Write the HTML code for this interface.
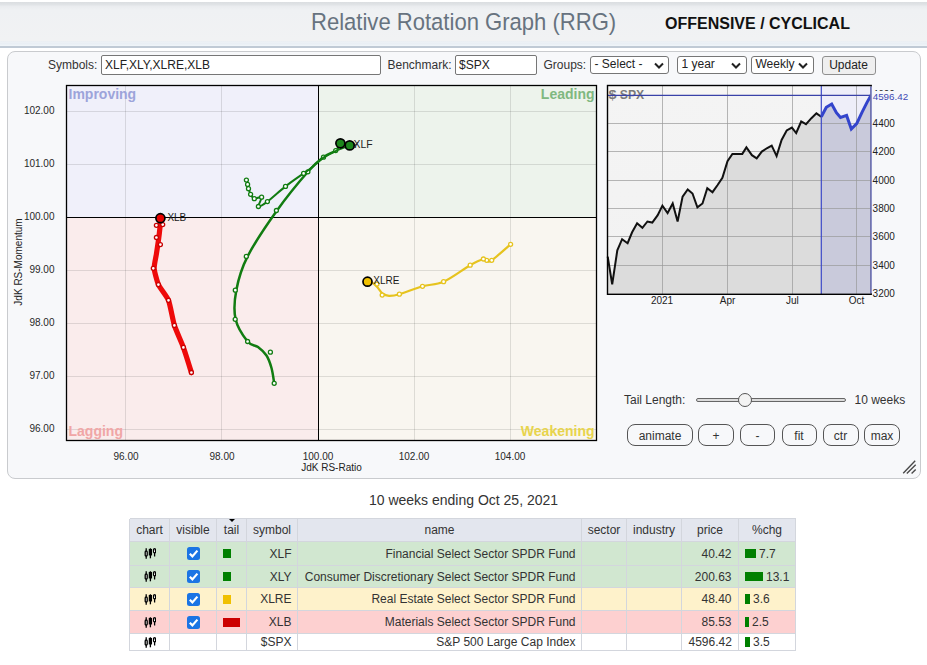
<!DOCTYPE html>
<html><head><meta charset="utf-8">
<style>
html,body{margin:0;padding:0;background:#fff;width:927px;height:665px;overflow:hidden;font-family:"Liberation Sans",sans-serif;color:#333;}
.abs{position:absolute;}
#hdr{position:absolute;left:0;top:2px;width:927px;height:44px;background:linear-gradient(#dadde0 0px,#e0e3e6 2.5px,#eaecef 4.5px,#eff1f3 8px,#f1f2f3 38.5px,#e9edf1 39px,#eef2f6 40px,#e8eef4 42px,#eff4f8 43px);border-bottom:2px solid #c0cad5;}
#title{position:absolute;left:310.5px;top:6px;font-size:24.5px;color:#67737f;white-space:nowrap;transform:scaleX(0.900);transform-origin:0 0;}
#tag{position:absolute;left:665px;top:13px;font-size:16px;font-weight:bold;color:#111;white-space:nowrap;}
#panel{position:absolute;left:6.5px;top:51px;width:912px;height:426px;border:1px solid #c9cbce;border-radius:8px;background:#f7f8fa;}
.lbl{position:absolute;font-size:12px;color:#333;white-space:nowrap;}
.inp{position:absolute;box-sizing:border-box;border:1px solid #767676;border-radius:2px;background:#fff;font-size:12px;color:#222;padding:0 0 0 3px;height:19.5px;line-height:18.5px;}
.sel{position:absolute;box-sizing:border-box;border:1px solid #767676;border-radius:3px;background:#fff;font-size:12px;color:#222;padding:0 0 0 4px;height:17.5px;line-height:15.5px;}
.sel svg{position:absolute;right:4.5px;top:4.5px;}
.btn{position:absolute;box-sizing:border-box;border:1px solid #555;border-radius:8px;background:#f7f8fa;font-size:12px;color:#333;text-align:center;height:21.5px;line-height:22.5px;}
svg#main{position:absolute;left:0;top:0;}
#cap{position:absolute;left:0;width:927px;text-align:center;top:492px;font-size:14px;color:#333;}
.cell{font-size:12px;color:#333;white-space:nowrap;}
.abs>svg{display:block;}
td,th{border:1px solid #dde0e6;padding:0 6px;white-space:nowrap;}
th{background:#e3e6ee;font-weight:normal;height:22px;text-align:center;}
td.r{text-align:right;}
td.c{text-align:center;}
td.tl{padding-left:6px;}
td.chg{padding-left:6px;}
.cb{display:inline-block;vertical-align:middle;height:13px;}
.cb svg{display:block;}
</style></head><body>
<div id="hdr"><div id="title">Relative Rotation Graph (RRG)</div><div id="tag">OFFENSIVE / CYCLICAL</div></div>
<div id="panel"></div>
<div class="lbl" style="left:48px;top:58px">Symbols:</div>
<div class="inp" style="left:101px;top:55px;width:279.5px">XLF,XLY,XLRE,XLB</div>
<div class="lbl" style="left:387.5px;top:58px">Benchmark:</div>
<div class="inp" style="left:455px;top:55px;width:81.5px">$SPX</div>
<div class="lbl" style="left:543.5px;top:58px">Groups:</div>
<div class="sel" style="left:589.5px;top:56px;width:79.5px">- Select -<svg width="10" height="7" viewBox="0 0 10 7"><path d="M1 1.5 L5 5.5 L9 1.5" stroke="#222" stroke-width="2" fill="none"/></svg></div>
<div class="sel" style="left:676.5px;top:56px;width:70px">1 year<svg width="10" height="7" viewBox="0 0 10 7"><path d="M1 1.5 L5 5.5 L9 1.5" stroke="#222" stroke-width="2" fill="none"/></svg></div>
<div class="sel" style="left:750.5px;top:56px;width:63px">Weekly<svg width="10" height="7" viewBox="0 0 10 7"><path d="M1 1.5 L5 5.5 L9 1.5" stroke="#222" stroke-width="2" fill="none"/></svg></div>
<div class="btn" style="left:821.5px;top:55.5px;width:54px;height:19px;line-height:17px;border-radius:3px;border-color:#8f8f8f;background:#efefef;color:#222;line-height:17px">Update</div>
<svg id="main" width="927" height="480" style="font-family:'Liberation Sans',sans-serif">
<rect x="66.5" y="85.5" width="252.0" height="132.0" fill="#f0f0fa"/>
<rect x="318.5" y="85.5" width="278.0" height="132.0" fill="#edf3ec"/>
<rect x="66.5" y="217.5" width="252.0" height="223.0" fill="#faecec"/>
<rect x="318.5" y="217.5" width="278.0" height="223.0" fill="#f9f6f0"/>
<line x1="125.5" y1="85.5" x2="125.5" y2="440.5" stroke="#000" stroke-opacity="0.11" stroke-width="1"/>
<line x1="221.5" y1="85.5" x2="221.5" y2="440.5" stroke="#000" stroke-opacity="0.11" stroke-width="1"/>
<line x1="414.5" y1="85.5" x2="414.5" y2="440.5" stroke="#000" stroke-opacity="0.11" stroke-width="1"/>
<line x1="510.5" y1="85.5" x2="510.5" y2="440.5" stroke="#000" stroke-opacity="0.11" stroke-width="1"/>
<line x1="66.5" y1="111.5" x2="596.5" y2="111.5" stroke="#000" stroke-opacity="0.11" stroke-width="1"/>
<line x1="66.5" y1="164.5" x2="596.5" y2="164.5" stroke="#000" stroke-opacity="0.11" stroke-width="1"/>
<line x1="66.5" y1="270.5" x2="596.5" y2="270.5" stroke="#000" stroke-opacity="0.11" stroke-width="1"/>
<line x1="66.5" y1="323.5" x2="596.5" y2="323.5" stroke="#000" stroke-opacity="0.11" stroke-width="1"/>
<line x1="66.5" y1="376.5" x2="596.5" y2="376.5" stroke="#000" stroke-opacity="0.11" stroke-width="1"/>
<line x1="66.5" y1="429.5" x2="596.5" y2="429.5" stroke="#000" stroke-opacity="0.11" stroke-width="1"/>
<line x1="318.5" y1="85.5" x2="318.5" y2="440.5" stroke="#000" stroke-width="1"/>
<line x1="66.5" y1="217.5" x2="596.5" y2="217.5" stroke="#000" stroke-width="1"/>
<rect x="66.5" y="85.5" width="530.0" height="355.0" fill="none" stroke="#000" stroke-width="1.3"/>
<text x="68.5" y="98.7" font-size="14" font-weight="bold" fill="#9da4da">Improving</text>
<text x="594.5" y="98.7" font-size="14" font-weight="bold" fill="#80b880" text-anchor="end">Leading</text>
<text x="68.5" y="436" font-size="14" font-weight="bold" fill="#f0a6a6">Lagging</text>
<text x="594.5" y="436" font-size="14" font-weight="bold" fill="#e8d44c" text-anchor="end">Weakening</text>
<text x="54.5" y="113.6" font-size="10" fill="#282828" text-anchor="end">102.00</text>
<text x="54.5" y="166.6" font-size="10" fill="#282828" text-anchor="end">101.00</text>
<text x="54.5" y="219.6" font-size="10" fill="#282828" text-anchor="end">100.00</text>
<text x="54.5" y="272.6" font-size="10" fill="#282828" text-anchor="end">99.00</text>
<text x="54.5" y="325.6" font-size="10" fill="#282828" text-anchor="end">98.00</text>
<text x="54.5" y="378.6" font-size="10" fill="#282828" text-anchor="end">97.00</text>
<text x="54.5" y="431.6" font-size="10" fill="#282828" text-anchor="end">96.00</text>
<text x="126" y="460.3" font-size="10" fill="#282828" text-anchor="middle">96.00</text>
<text x="222" y="460.3" font-size="10" fill="#282828" text-anchor="middle">98.00</text>
<text x="318" y="460.3" font-size="10" fill="#282828" text-anchor="middle">100.00</text>
<text x="414" y="460.3" font-size="10" fill="#282828" text-anchor="middle">102.00</text>
<text x="510" y="460.3" font-size="10" fill="#282828" text-anchor="middle">104.00</text>
<text x="331.5" y="470.7" font-size="10" fill="#222" text-anchor="middle">JdK RS-Ratio</text>
<text transform="translate(21.5,262) rotate(-90)" font-size="10" fill="#222" text-anchor="middle">JdK RS-Momentum</text>
<path d="M510.6,244.3 C507.5,247.0 495.7,257.6 491.7,260.3 C487.7,263.1 488.1,261.0 486.7,260.8 C485.3,260.6 486.1,258.6 483.4,259.3 C480.6,260.0 476.8,261.5 470.2,265.2 C463.6,268.9 451.6,278.2 443.6,281.7 C435.7,285.2 429.9,284.2 422.5,286.3 C415.1,288.4 405.0,292.6 399.4,294.2 C393.8,295.8 391.8,295.9 389.0,295.8 C386.2,295.7 384.3,294.8 382.5,293.5 C380.7,292.2 379.5,289.7 378.0,288.0 C376.5,286.3 375.2,284.6 373.5,283.5 C371.8,282.4 368.5,282.0 367.5,281.7" fill="none" stroke="#e6c31e" stroke-width="2.2" stroke-linejoin="round" stroke-linecap="round"/><circle cx="510.6" cy="244.3" r="2" fill="#fff" stroke="#e6c31e" stroke-width="1.3"/><circle cx="491.7" cy="260.3" r="2" fill="#fff" stroke="#e6c31e" stroke-width="1.3"/><circle cx="486.7" cy="260.3" r="2" fill="#fff" stroke="#e6c31e" stroke-width="1.3"/><circle cx="483.4" cy="259" r="2" fill="#fff" stroke="#e6c31e" stroke-width="1.3"/><circle cx="470.2" cy="265.2" r="2" fill="#fff" stroke="#e6c31e" stroke-width="1.3"/><circle cx="443.6" cy="281.7" r="2" fill="#fff" stroke="#e6c31e" stroke-width="1.3"/><circle cx="422.5" cy="286.3" r="2" fill="#fff" stroke="#e6c31e" stroke-width="1.3"/><circle cx="399.4" cy="294.2" r="2" fill="#fff" stroke="#e6c31e" stroke-width="1.3"/><circle cx="382.2" cy="295.1" r="2" fill="#fff" stroke="#e6c31e" stroke-width="1.3"/><circle cx="377" cy="284.1" r="2" fill="#fff" stroke="#e6c31e" stroke-width="1.3"/>
<path d="M274.2,383.3 C273.8,380.8 272.8,372.6 271.5,368.0 C270.2,363.4 268.8,359.0 266.5,355.5 C264.2,352.0 261.1,349.3 258.0,347.0 C254.8,344.7 251.3,346.1 247.6,341.5 C243.9,336.9 237.5,327.9 235.6,319.3 C233.7,310.8 234.3,300.7 236.3,290.2 C238.3,279.7 240.8,269.7 247.6,256.4 C254.4,243.1 266.9,224.6 277.0,210.5 C287.1,196.4 300.1,180.7 307.9,171.8 C315.6,162.9 318.9,160.7 323.5,157.2 C328.1,153.7 332.9,152.9 335.7,150.6 C338.5,148.3 339.6,144.5 340.4,143.3" fill="none" stroke="#117c11" stroke-width="2.5" stroke-linejoin="round" stroke-linecap="round"/><circle cx="274.2" cy="383.3" r="2" fill="#fff" stroke="#117c11" stroke-width="1.3"/><circle cx="270.4" cy="352.2" r="2" fill="#fff" stroke="#117c11" stroke-width="1.3"/><circle cx="247.6" cy="341.5" r="2" fill="#fff" stroke="#117c11" stroke-width="1.3"/><circle cx="235.2" cy="319.3" r="2" fill="#fff" stroke="#117c11" stroke-width="1.3"/><circle cx="235.3" cy="290.2" r="2" fill="#fff" stroke="#117c11" stroke-width="1.3"/><circle cx="246.3" cy="256.4" r="2" fill="#fff" stroke="#117c11" stroke-width="1.3"/><circle cx="276.4" cy="210.5" r="2" fill="#fff" stroke="#117c11" stroke-width="1.3"/><circle cx="307.9" cy="171.8" r="2" fill="#fff" stroke="#117c11" stroke-width="1.3"/><circle cx="323.5" cy="157.2" r="2" fill="#fff" stroke="#117c11" stroke-width="1.3"/><circle cx="335.7" cy="150.6" r="2" fill="#fff" stroke="#117c11" stroke-width="1.3"/>
<path d="M246.4,180.1 C246.6,180.8 247.2,183.0 247.6,184.4 C247.9,185.8 248.0,187.0 248.5,188.7 C249.0,190.3 249.6,192.6 250.6,194.3 C251.6,196.0 252.5,198.2 254.3,198.7 C256.1,199.2 260.9,195.9 261.6,197.2 C262.3,198.5 257.4,205.8 258.4,206.5 C259.4,207.2 262.9,204.9 267.4,201.6 C271.9,198.2 279.5,191.1 285.5,186.4 C291.5,181.7 299.6,176.2 303.6,173.4 C307.6,170.6 306.2,171.9 309.5,169.3 C312.8,166.7 319.1,160.7 323.5,157.6 C327.9,154.5 331.6,152.9 336.0,150.9 C340.4,148.9 347.4,146.3 349.7,145.4" fill="none" stroke="#117c11" stroke-width="2.0" stroke-linejoin="round" stroke-linecap="round"/><circle cx="246.4" cy="180.1" r="2" fill="#fff" stroke="#117c11" stroke-width="1.3"/><circle cx="247.6" cy="184.4" r="2" fill="#fff" stroke="#117c11" stroke-width="1.3"/><circle cx="248.5" cy="188.7" r="2" fill="#fff" stroke="#117c11" stroke-width="1.3"/><circle cx="250.6" cy="194.3" r="2" fill="#fff" stroke="#117c11" stroke-width="1.3"/><circle cx="254.3" cy="198.7" r="2" fill="#fff" stroke="#117c11" stroke-width="1.3"/><circle cx="261.6" cy="197.2" r="2" fill="#fff" stroke="#117c11" stroke-width="1.3"/><circle cx="258.4" cy="206.5" r="2" fill="#fff" stroke="#117c11" stroke-width="1.3"/><circle cx="267.4" cy="201.6" r="2" fill="#fff" stroke="#117c11" stroke-width="1.3"/><circle cx="285.5" cy="186.4" r="2" fill="#fff" stroke="#117c11" stroke-width="1.3"/><circle cx="303.6" cy="173.4" r="2" fill="#fff" stroke="#117c11" stroke-width="1.3"/>
<path d="M191.4,372.5 C190.6,370.0 185.1,352.1 183.4,347.4 C181.7,342.7 175.9,330.1 174.4,325.4 C172.9,320.7 170.1,304.4 168.5,300.3 C166.9,296.2 159.8,287.8 158.4,284.6 C157.0,281.4 154.4,271.4 154.2,268.3 C154.0,265.2 156.0,256.8 156.4,254.0 C156.8,251.2 158.0,243.3 158.4,240.6 C158.8,237.9 159.8,229.2 160.0,227.0 C160.2,224.8 160.4,219.1 160.4,218.2" fill="none" stroke="#ee0a0a" stroke-width="5.2" stroke-linejoin="round" stroke-linecap="round"/><circle cx="191.4" cy="372.5" r="2" fill="#fff" stroke="#c80000" stroke-width="1.3"/><circle cx="183.4" cy="347.4" r="2" fill="#fff" stroke="#c80000" stroke-width="1.3"/><circle cx="174.4" cy="325.4" r="2" fill="#fff" stroke="#c80000" stroke-width="1.3"/><circle cx="168.5" cy="300.3" r="2" fill="#fff" stroke="#c80000" stroke-width="1.3"/><circle cx="158.4" cy="284.6" r="2" fill="#fff" stroke="#c80000" stroke-width="1.3"/><circle cx="153.3" cy="268.3" r="2" fill="#fff" stroke="#c80000" stroke-width="1.3"/><circle cx="160.4" cy="244.6" r="2" fill="#fff" stroke="#c80000" stroke-width="1.3"/><circle cx="156.4" cy="237.5" r="2" fill="#fff" stroke="#c80000" stroke-width="1.3"/><circle cx="162.7" cy="224.6" r="2" fill="#fff" stroke="#c80000" stroke-width="1.3"/><circle cx="156.4" cy="225.3" r="2" fill="#fff" stroke="#c80000" stroke-width="1.3"/>
<text x="341.3" y="147.8" font-size="9.6" fill="#222">XLY</text>
<circle cx="340.4" cy="143.3" r="4.5" fill="#1c861c" stroke="#000" stroke-width="1.7"/>
<circle cx="349.7" cy="145.4" r="4.5" fill="#1c861c" stroke="#000" stroke-width="1.7"/>
<text x="353.6" y="147.8" font-size="10.4" fill="#222">XLF</text>
<circle cx="367.5" cy="281.7" r="4.5" fill="#f0c000" stroke="#000" stroke-width="1.7"/>
<text x="373.3" y="283.9" font-size="10" fill="#1a1a1a">XLRE</text>
<circle cx="160.4" cy="218.2" r="4.5" fill="#e80000" stroke="#000" stroke-width="1.7"/>
<text x="167.4" y="220.9" font-size="10" fill="#1a1a1a">XLB</text>
<defs><linearGradient id="bg" x1="0" y1="0" x2="0" y2="1"><stop offset="0" stop-color="#f4f4f4"/><stop offset="1" stop-color="#f2f2f2"/></linearGradient><linearGradient id="fl" x1="0" y1="0" x2="0" y2="1"><stop offset="0" stop-color="#d6d6d6"/><stop offset="1" stop-color="#dedede"/></linearGradient></defs>
<rect x="607.5" y="85.5" width="263.70000000000005" height="208.8" fill="url(#bg)"/>
<rect x="607.5" y="85.5" width="263.70000000000005" height="10" fill="#f7f6f4"/>
<rect x="821.3" y="85.5" width="49.90000000000009" height="208.8" fill="#eeeef9"/>
<polygon points="607.5,294.3 607.7,256.7 612.2,284.3 617.3,250.4 622.1,239.2 627.6,243.2 632.1,232.3 637.1,223.3 642.4,227.8 647.4,221.5 652.3,222.6 657.7,215.2 662.4,205.6 667.6,213.0 672.7,203.5 677.6,221.5 682.6,196.6 687.7,189.4 692.5,193.5 697.4,207.4 702.5,203.5 707.3,188.2 712.5,192.2 717.6,185.0 722.4,177.8 727.5,161.2 732.4,153.9 737.4,153.9 742.3,153.9 746.4,147.4 751.9,155.2 756.7,158.3 761.8,151.6 767.2,148.0 771.7,145.6 776.6,156.1 781.6,139.9 786.7,130.5 791.9,127.6 796.2,133.0 801.2,121.5 806.0,124.2 811.4,118.2 816.4,113.4 821.3,116.8 821.3,294.3" fill="#dcdcdc"/>
<polygon points="821.3,294.3 821.3,116.8 826.3,107.3 831.7,104.0 836.4,112.7 840.5,117.5 846.6,115.4 851.3,129.0 856.7,123.6 862.1,112.1 866.9,102.6 871.2,95.1 871.2,294.3" fill="#c9cadb"/>
<line x1="607.5" y1="265.5" x2="871.2" y2="265.5" stroke="#9a9a9a" stroke-width="1" opacity="0.7"/>
<line x1="607.5" y1="236.5" x2="871.2" y2="236.5" stroke="#9a9a9a" stroke-width="1" opacity="0.7"/>
<line x1="607.5" y1="208.5" x2="871.2" y2="208.5" stroke="#9a9a9a" stroke-width="1" opacity="0.7"/>
<line x1="607.5" y1="180.5" x2="871.2" y2="180.5" stroke="#9a9a9a" stroke-width="1" opacity="0.7"/>
<line x1="607.5" y1="151.5" x2="871.2" y2="151.5" stroke="#9a9a9a" stroke-width="1" opacity="0.7"/>
<line x1="607.5" y1="123.5" x2="871.2" y2="123.5" stroke="#9a9a9a" stroke-width="1" opacity="0.7"/>
<text x="608.6" y="98.8" font-size="13.5" font-weight="bold" fill="#7a7a7a" textLength="8" lengthAdjust="spacingAndGlyphs">$</text><text x="619.8" y="98.8" font-size="13.5" font-weight="bold" fill="#7a7a7a" textLength="24.4" lengthAdjust="spacingAndGlyphs">SPX</text>
<line x1="662.5" y1="85.5" x2="662.5" y2="294.3" stroke="#9a9a9a" stroke-width="1" opacity="0.7"/>
<line x1="727.5" y1="85.5" x2="727.5" y2="294.3" stroke="#9a9a9a" stroke-width="1" opacity="0.7"/>
<line x1="792.5" y1="85.5" x2="792.5" y2="294.3" stroke="#9a9a9a" stroke-width="1" opacity="0.7"/>
<line x1="856.5" y1="85.5" x2="856.5" y2="294.3" stroke="#9a9a9a" stroke-width="1" opacity="0.7"/>
<polyline points="607.7,256.7 612.2,284.3 617.3,250.4 622.1,239.2 627.6,243.2 632.1,232.3 637.1,223.3 642.4,227.8 647.4,221.5 652.3,222.6 657.7,215.2 662.4,205.6 667.6,213.0 672.7,203.5 677.6,221.5 682.6,196.6 687.7,189.4 692.5,193.5 697.4,207.4 702.5,203.5 707.3,188.2 712.5,192.2 717.6,185.0 722.4,177.8 727.5,161.2 732.4,153.9 737.4,153.9 742.3,153.9 746.4,147.4 751.9,155.2 756.7,158.3 761.8,151.6 767.2,148.0 771.7,145.6 776.6,156.1 781.6,139.9 786.7,130.5 791.9,127.6 796.2,133.0 801.2,121.5 806.0,124.2 811.4,118.2 816.4,113.4 821.3,116.8" fill="none" stroke="#111" stroke-width="2" stroke-linejoin="miter"/>
<polyline points="821.3,116.8 826.3,107.3 831.7,104.0 836.4,112.7 840.5,117.5 846.6,115.4 851.3,129.0 856.7,123.6 862.1,112.1 866.9,102.6 871.2,95.1" fill="none" stroke="#3344cc" stroke-width="3" stroke-linejoin="miter"/>
<line x1="821.3" y1="85.5" x2="821.3" y2="294.3" stroke="#3a48c8" stroke-width="1.2"/>
<line x1="607.5" y1="95.3" x2="871.2" y2="95.3" stroke="#3a42a8" stroke-width="1.35"/>
<rect x="607.5" y="85.5" width="263.70000000000005" height="208.8" fill="none" stroke="#000" stroke-width="1.4"/>
<line x1="871.2" y1="86.5" x2="871.2" y2="293.3" stroke="#f7f8fa" stroke-width="1.6"/><line x1="871.0" y1="86.5" x2="871.0" y2="293.3" stroke="#343a9c" stroke-width="1.1"/>
<text x="872.6" y="297.2" font-size="10" fill="#222">3200</text>
<text x="872.6" y="268.8" font-size="10" fill="#222">3400</text>
<text x="872.6" y="240.4" font-size="10" fill="#222">3600</text>
<text x="872.6" y="211.9" font-size="10" fill="#222">3800</text>
<text x="872.6" y="183.5" font-size="10" fill="#222">4000</text>
<text x="872.6" y="155.1" font-size="10" fill="#222">4200</text>
<text x="872.6" y="126.7" font-size="10" fill="#222">4400</text>
<text x="872.6" y="98.3" font-size="10" fill="#222">4600</text>
<rect x="872" y="91" width="37" height="10" fill="#f7f8fa"/>
<text x="872.7" y="99.5" font-size="9.8" fill="#4049b4">4596.42</text>
<text x="662" y="303.6" font-size="10" fill="#222" text-anchor="middle">2021</text>
<text x="727.6" y="303.6" font-size="10" fill="#222" text-anchor="middle">Apr</text>
<text x="792.4" y="303.6" font-size="10" fill="#222" text-anchor="middle">Jul</text>
<text x="856.5" y="303.6" font-size="10" fill="#222" text-anchor="middle">Oct</text>
</svg>
<div class="lbl" style="left:624px;top:393px">Tail Length:</div>
<div class="abs" style="left:696px;top:397.8px;width:150px;height:4.4px;box-sizing:border-box;border:1px solid #666;border-radius:3px;background:#dcdcdc"></div>
<div class="abs" style="left:738px;top:393px;width:14px;height:14px;box-sizing:border-box;border:1px solid #555;border-radius:50%;background:#f3f3f3"></div>
<div class="lbl" style="left:854.5px;top:393px">10 weeks</div>
<div class="btn" style="left:627px;top:424px;width:66px">animate</div>
<div class="btn" style="left:698px;top:424px;width:36px">+</div>
<div class="btn" style="left:740px;top:424px;width:35px">-</div>
<div class="btn" style="left:781.5px;top:424px;width:35px">fit</div>
<div class="btn" style="left:822.5px;top:424px;width:36px">ctr</div>
<div class="btn" style="left:864px;top:424px;width:36px">max</div>
<svg class="abs" style="left:900px;top:458px" width="18" height="18"><path d="M3.2 15.2 L15.2 2.8 M6.8 15.4 L15.7 6.8 M11.6 15.4 L15.7 11.4" stroke="#4a4a4a" stroke-width="1.4"/></svg>
<div id="cap">10 weeks ending Oct 25, 2021</div>
<div class="abs" style="left:129.5px;top:518.5px;width:666.0px;height:23.0px;background:#e3e6ee"></div>
<div class="abs" style="left:129.5px;top:541.5px;width:666.0px;height:24.0px;background:#d1e7d0"></div>
<div class="abs" style="left:129.5px;top:565.5px;width:666.0px;height:22.0px;background:#d1e7d0"></div>
<div class="abs" style="left:129.5px;top:587.5px;width:666.0px;height:23.0px;background:#fef2cb"></div>
<div class="abs" style="left:129.5px;top:610.5px;width:666.0px;height:23.0px;background:#fdd0d0"></div>
<div class="abs" style="left:129.5px;top:633.5px;width:666.0px;height:17.0px;background:#ffffff"></div>
<div class="abs" style="left:129.5px;top:518.0px;width:666.0px;height:1px;background:#d3d6dd"></div>
<div class="abs" style="left:129.5px;top:541.0px;width:666.0px;height:1px;background:#d3d6dd"></div>
<div class="abs" style="left:129.5px;top:565.0px;width:666.0px;height:1px;background:#d3d6dd"></div>
<div class="abs" style="left:129.5px;top:587.0px;width:666.0px;height:1px;background:#d3d6dd"></div>
<div class="abs" style="left:129.5px;top:610.0px;width:666.0px;height:1px;background:#d3d6dd"></div>
<div class="abs" style="left:129.5px;top:633.0px;width:666.0px;height:1px;background:#d3d6dd"></div>
<div class="abs" style="left:129.5px;top:650.0px;width:666.0px;height:1px;background:#d3d6dd"></div>
<div class="abs" style="left:129.0px;top:518.5px;width:1px;height:132.0px;background:#d3d6dd"></div>
<div class="abs" style="left:169.0px;top:518.5px;width:1px;height:132.0px;background:#d3d6dd"></div>
<div class="abs" style="left:216.0px;top:518.5px;width:1px;height:132.0px;background:#d3d6dd"></div>
<div class="abs" style="left:246.0px;top:518.5px;width:1px;height:132.0px;background:#d3d6dd"></div>
<div class="abs" style="left:297.0px;top:518.5px;width:1px;height:132.0px;background:#d3d6dd"></div>
<div class="abs" style="left:581.0px;top:518.5px;width:1px;height:132.0px;background:#d3d6dd"></div>
<div class="abs" style="left:626.0px;top:518.5px;width:1px;height:132.0px;background:#d3d6dd"></div>
<div class="abs" style="left:681.0px;top:518.5px;width:1px;height:132.0px;background:#d3d6dd"></div>
<div class="abs" style="left:738.0px;top:518.5px;width:1px;height:132.0px;background:#d3d6dd"></div>
<div class="abs" style="left:795.0px;top:518.5px;width:1px;height:132.0px;background:#d3d6dd"></div>
<div class="abs cell" style="left:129.5px;top:518.5px;width:40.0px;height:23.0px;line-height:23.0px;text-align:center;box-sizing:border-box;padding:0 6px;">chart</div>
<div class="abs cell" style="left:169.5px;top:518.5px;width:47.0px;height:23.0px;line-height:23.0px;text-align:center;box-sizing:border-box;padding:0 6px;">visible</div>
<div class="abs cell" style="left:216.5px;top:518.5px;width:30.0px;height:23.0px;line-height:23.0px;text-align:center;box-sizing:border-box;padding:0 6px;">tail</div>
<div class="abs cell" style="left:246.5px;top:518.5px;width:51.0px;height:23.0px;line-height:23.0px;text-align:center;box-sizing:border-box;padding:0 6px;">symbol</div>
<div class="abs cell" style="left:297.5px;top:518.5px;width:284.0px;height:23.0px;line-height:23.0px;text-align:center;box-sizing:border-box;padding:0 6px;">name</div>
<div class="abs cell" style="left:581.5px;top:518.5px;width:45.0px;height:23.0px;line-height:23.0px;text-align:center;box-sizing:border-box;padding:0 6px;">sector</div>
<div class="abs cell" style="left:626.5px;top:518.5px;width:55.0px;height:23.0px;line-height:23.0px;text-align:center;box-sizing:border-box;padding:0 6px;">industry</div>
<div class="abs cell" style="left:681.5px;top:518.5px;width:57.0px;height:23.0px;line-height:23.0px;text-align:center;box-sizing:border-box;padding:0 6px;">price</div>
<div class="abs cell" style="left:738.5px;top:518.5px;width:57.0px;height:23.0px;line-height:23.0px;text-align:center;box-sizing:border-box;padding:0 6px;">%chg</div>
<div class="abs" style="left:228.5px;top:519px;width:0;height:0;border-left:3px solid transparent;border-right:3px solid transparent;border-top:3.5px solid #000"></div>
<div class="abs" style="left:144px;top:548.0px;width:12px;height:11px"><svg width="12" height="11" viewBox="0 0 12 11"><g stroke="#000" stroke-width="1.3"><line x1="2.2" y1="0.3" x2="2.2" y2="10.8"/><rect x="1.2" y="3.2" width="2" height="4.8" rx="0.8" fill="#fff"/><line x1="6.4" y1="0.3" x2="6.4" y2="10.3"/><rect x="5.4" y="1.6" width="2" height="5.2" fill="#000"/><line x1="10.6" y1="0.3" x2="10.6" y2="8.5"/><rect x="9.6" y="0.8" width="2" height="4" rx="0.8" fill="#fff"/></g></svg></div>
<div class="abs" style="left:186.5px;top:547.0px;width:13px;height:13px"><svg width="13" height="13" viewBox="0 0 13 13"><rect width="13" height="13" rx="2.5" fill="#1b74e4"/><path d="M2.8 6.8 L5.4 9.4 L10.4 3.6" stroke="#fff" stroke-width="2.2" fill="none"/></svg></div>
<div class="abs" style="left:223px;top:549.0px;width:8px;height:9px;background:#008000"></div>
<div class="abs cell" style="left:246.5px;top:541.5px;width:51.0px;height:24.0px;line-height:24.0px;text-align:right;box-sizing:border-box;padding:0 6px;">XLF</div>
<div class="abs cell" style="left:297.5px;top:541.5px;width:284.0px;height:24.0px;line-height:24.0px;text-align:right;box-sizing:border-box;padding:0 6px;">Financial Select Sector SPDR Fund</div>
<div class="abs cell" style="left:681.5px;top:541.5px;width:57.0px;height:24.0px;line-height:24.0px;text-align:right;box-sizing:border-box;padding:0 7px;">40.42</div>
<div class="abs" style="left:745px;top:548.75px;width:11px;height:9.5px;background:#008000"></div>
<div class="abs cell" style="left:759px;top:541.5px;height:24.0px;line-height:24.0px">7.7</div>
<div class="abs" style="left:144px;top:571.0px;width:12px;height:11px"><svg width="12" height="11" viewBox="0 0 12 11"><g stroke="#000" stroke-width="1.3"><line x1="2.2" y1="0.3" x2="2.2" y2="10.8"/><rect x="1.2" y="3.2" width="2" height="4.8" rx="0.8" fill="#fff"/><line x1="6.4" y1="0.3" x2="6.4" y2="10.3"/><rect x="5.4" y="1.6" width="2" height="5.2" fill="#000"/><line x1="10.6" y1="0.3" x2="10.6" y2="8.5"/><rect x="9.6" y="0.8" width="2" height="4" rx="0.8" fill="#fff"/></g></svg></div>
<div class="abs" style="left:186.5px;top:570.0px;width:13px;height:13px"><svg width="13" height="13" viewBox="0 0 13 13"><rect width="13" height="13" rx="2.5" fill="#1b74e4"/><path d="M2.8 6.8 L5.4 9.4 L10.4 3.6" stroke="#fff" stroke-width="2.2" fill="none"/></svg></div>
<div class="abs" style="left:223px;top:572.0px;width:8px;height:9px;background:#008000"></div>
<div class="abs cell" style="left:246.5px;top:565.5px;width:51.0px;height:22.0px;line-height:22.0px;text-align:right;box-sizing:border-box;padding:0 6px;">XLY</div>
<div class="abs cell" style="left:297.5px;top:565.5px;width:284.0px;height:22.0px;line-height:22.0px;text-align:right;box-sizing:border-box;padding:0 6px;">Consumer Discretionary Select Sector SPDR Fund</div>
<div class="abs cell" style="left:681.5px;top:565.5px;width:57.0px;height:22.0px;line-height:22.0px;text-align:right;box-sizing:border-box;padding:0 7px;">200.63</div>
<div class="abs" style="left:745px;top:571.75px;width:18px;height:9.5px;background:#008000"></div>
<div class="abs cell" style="left:766px;top:565.5px;height:22.0px;line-height:22.0px">13.1</div>
<div class="abs" style="left:144px;top:593.5px;width:12px;height:11px"><svg width="12" height="11" viewBox="0 0 12 11"><g stroke="#000" stroke-width="1.3"><line x1="2.2" y1="0.3" x2="2.2" y2="10.8"/><rect x="1.2" y="3.2" width="2" height="4.8" rx="0.8" fill="#fff"/><line x1="6.4" y1="0.3" x2="6.4" y2="10.3"/><rect x="5.4" y="1.6" width="2" height="5.2" fill="#000"/><line x1="10.6" y1="0.3" x2="10.6" y2="8.5"/><rect x="9.6" y="0.8" width="2" height="4" rx="0.8" fill="#fff"/></g></svg></div>
<div class="abs" style="left:186.5px;top:592.5px;width:13px;height:13px"><svg width="13" height="13" viewBox="0 0 13 13"><rect width="13" height="13" rx="2.5" fill="#1b74e4"/><path d="M2.8 6.8 L5.4 9.4 L10.4 3.6" stroke="#fff" stroke-width="2.2" fill="none"/></svg></div>
<div class="abs" style="left:223px;top:594.5px;width:8px;height:9px;background:#f0c000"></div>
<div class="abs cell" style="left:246.5px;top:587.5px;width:51.0px;height:23.0px;line-height:23.0px;text-align:right;box-sizing:border-box;padding:0 6px;">XLRE</div>
<div class="abs cell" style="left:297.5px;top:587.5px;width:284.0px;height:23.0px;line-height:23.0px;text-align:right;box-sizing:border-box;padding:0 6px;">Real Estate Select Sector SPDR Fund</div>
<div class="abs cell" style="left:681.5px;top:587.5px;width:57.0px;height:23.0px;line-height:23.0px;text-align:right;box-sizing:border-box;padding:0 7px;">48.40</div>
<div class="abs" style="left:745px;top:594.25px;width:5px;height:9.5px;background:#008000"></div>
<div class="abs cell" style="left:753px;top:587.5px;height:23.0px;line-height:23.0px">3.6</div>
<div class="abs" style="left:144px;top:616.5px;width:12px;height:11px"><svg width="12" height="11" viewBox="0 0 12 11"><g stroke="#000" stroke-width="1.3"><line x1="2.2" y1="0.3" x2="2.2" y2="10.8"/><rect x="1.2" y="3.2" width="2" height="4.8" rx="0.8" fill="#fff"/><line x1="6.4" y1="0.3" x2="6.4" y2="10.3"/><rect x="5.4" y="1.6" width="2" height="5.2" fill="#000"/><line x1="10.6" y1="0.3" x2="10.6" y2="8.5"/><rect x="9.6" y="0.8" width="2" height="4" rx="0.8" fill="#fff"/></g></svg></div>
<div class="abs" style="left:186.5px;top:615.5px;width:13px;height:13px"><svg width="13" height="13" viewBox="0 0 13 13"><rect width="13" height="13" rx="2.5" fill="#1b74e4"/><path d="M2.8 6.8 L5.4 9.4 L10.4 3.6" stroke="#fff" stroke-width="2.2" fill="none"/></svg></div>
<div class="abs" style="left:223px;top:617.5px;width:17px;height:9px;background:#cc0000"></div>
<div class="abs cell" style="left:246.5px;top:610.5px;width:51.0px;height:23.0px;line-height:23.0px;text-align:right;box-sizing:border-box;padding:0 6px;">XLB</div>
<div class="abs cell" style="left:297.5px;top:610.5px;width:284.0px;height:23.0px;line-height:23.0px;text-align:right;box-sizing:border-box;padding:0 6px;">Materials Select Sector SPDR Fund</div>
<div class="abs cell" style="left:681.5px;top:610.5px;width:57.0px;height:23.0px;line-height:23.0px;text-align:right;box-sizing:border-box;padding:0 7px;">85.53</div>
<div class="abs" style="left:745px;top:617.25px;width:4px;height:9.5px;background:#008000"></div>
<div class="abs cell" style="left:752px;top:610.5px;height:23.0px;line-height:23.0px">2.5</div>
<div class="abs" style="left:144px;top:636.5px;width:12px;height:11px"><svg width="12" height="11" viewBox="0 0 12 11"><g stroke="#000" stroke-width="1.3"><line x1="2.2" y1="0.3" x2="2.2" y2="10.8"/><rect x="1.2" y="3.2" width="2" height="4.8" rx="0.8" fill="#fff"/><line x1="6.4" y1="0.3" x2="6.4" y2="10.3"/><rect x="5.4" y="1.6" width="2" height="5.2" fill="#000"/><line x1="10.6" y1="0.3" x2="10.6" y2="8.5"/><rect x="9.6" y="0.8" width="2" height="4" rx="0.8" fill="#fff"/></g></svg></div>
<div class="abs cell" style="left:246.5px;top:633.5px;width:51.0px;height:17.0px;line-height:17.0px;text-align:right;box-sizing:border-box;padding:0 6px;">$SPX</div>
<div class="abs cell" style="left:297.5px;top:633.5px;width:284.0px;height:17.0px;line-height:17.0px;text-align:right;box-sizing:border-box;padding:0 6px;">S&amp;P 500 Large Cap Index</div>
<div class="abs cell" style="left:681.5px;top:633.5px;width:57.0px;height:17.0px;line-height:17.0px;text-align:right;box-sizing:border-box;padding:0 7px;">4596.42</div>
<div class="abs" style="left:745px;top:637.25px;width:5px;height:9.5px;background:#008000"></div>
<div class="abs cell" style="left:753px;top:633.5px;height:17.0px;line-height:17.0px">3.5</div>
</body></html>
